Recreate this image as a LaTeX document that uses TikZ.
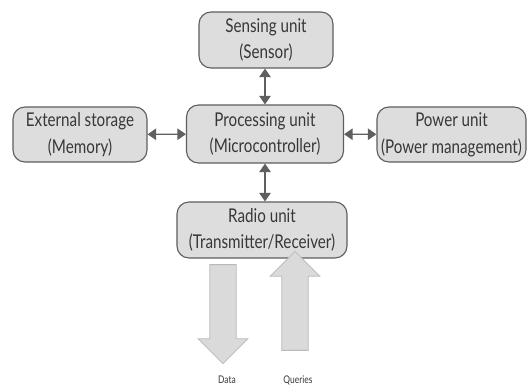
\documentclass[tikz,border=0pt]{standalone}
\usepackage{fontspec}
\setmainfont[FakeStretch=0.8]{Lato}
\usepackage{tikz}
\usepackage{xcolor}
\usetikzlibrary{shapes,shapes.arrows,arrows.meta,positioning}
\definecolor{unitcolor}{RGB}{221,221,221}
\definecolor{edgecolor}{RGB}{95,95,95}
\definecolor{textcolor}{RGB}{55,55,55}
\definecolor{flowcolor}{RGB}{218,218,218}
\definecolor{flowedge}{RGB}{185,185,185}

\begin{document}
\begin{tikzpicture}[
    x=0.025cm, y=-0.025cm,
    unit/.style={rectangle, rounded corners=0.3cm, minimum height=1.4cm, align=center, draw=edgecolor, line width=0.8pt, fill=unitcolor, text=textcolor, font=\fontsize{13.5}{19}\selectfont, inner sep=0pt},
    link/.style={draw=edgecolor, line width=1pt, {Triangle[length=6pt,width=8pt]}-{Triangle[length=6pt,width=8pt]}},
    flow/.style={single arrow, single arrow head indent=0pt, fill=flowcolor, draw=flowedge, line width=0.6pt, inner sep=0.32cm, single arrow head extend=0.29cm, minimum height=2.475cm},
    flowlabel/.style={text=textcolor, font=\fontsize{7.5}{9}\selectfont}
]
\useasboundingbox (0,0) rectangle (528,387);

% Units
\node[unit, minimum width=3.35cm] (sensing) at (266,40) {Sensing unit\\(Sensor)};
\node[unit, minimum width=3.925cm, minimum height=1.45cm] (processing) at (265,134) {Processing unit\\(Microcontroller)};
\node[unit, minimum width=3.35cm, minimum height=1.375cm] (storage) at (80,134.5) {External storage\\(Memory)};
\node[unit, minimum width=3.725cm, minimum height=1.375cm] (power) at (451.5,134.5) {Power unit\\(Power management)};
\node[unit, minimum width=4.25cm] (radio) at (262,230) {Radio unit\\(Transmitter/Receiver)};

% Links
\draw[link] (sensing.south -| processing.north) -- (processing.north);
\draw[link] (storage) -- (processing);
\draw[link] (processing) -- (power);
\draw[link] (processing.south) -- (processing.south |- radio.north);

% Data and queries
\node[flow, shape border rotate=270] (data) at (223,307.5) {};
\node[flow, shape border rotate=90] (queries) at (295,307.5) {};
\node[flowlabel] (datalabel) at (227,380) {Data};
\node[flowlabel] (querieslabel) at (298,380) {Queries};

\end{tikzpicture}
\end{document}
